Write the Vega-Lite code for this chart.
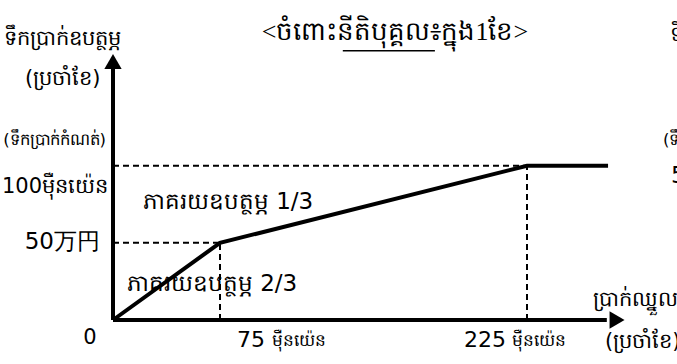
{
  "$schema": "https://vega.github.io/schema/vega-lite/v6.json",
  "width": 507,
  "height": 270,
  "autosize": "none",
  "padding": {"left": 113, "top": 50, "right": 57, "bottom": 44},
  "background": "white",
  "config": {"view": {"stroke": null}},
  "datasets": {
    "line": [{"x": 0, "y": 0}, {"x": 75, "y": 50}, {"x": 225, "y": 100}, {"x": 264.6, "y": 100}],
    "dashes": [
      {"x": 0, "y": 50, "x2": 75, "y2": 50},
      {"x": 75, "y": 0, "x2": 75, "y2": 50},
      {"x": 0, "y": 100, "x2": 225, "y2": 100},
      {"x": 225, "y": 0, "x2": 225, "y2": 100}
    ],
    "axes": [
      {"x": 0, "y": 0, "x2": 0, "y2": 164},
      {"x": 0, "y": 0, "x2": 264, "y2": 0}
    ],
    "underline": [{"x": 135, "y": 174.5, "x2": 180, "y2": 174.5}],
    "arrowUp": [{"x": 0, "y": 167.5}],
    "arrowRight": [{"x": 269, "y": 0}],
    "title": [{"x": 160.5, "y": 186.6, "text": "<ចំពោះនីតិបុគ្គល៖ក្នុង1ខែ>"}],
    "yTitle": [
      {"x": -35.2, "y": 182, "text": "ទឹកប្រាក់ឧបត្ថម្ភ"},
      {"x": -35.2, "y": 156, "text": "(ប្រចាំខែ)"}
    ],
    "rates": [
      {"x": 78.9, "y": 76.5, "text": "ភាគរយឧបត្ថម្ភ 1/3"},
      {"x": 69.4, "y": 23.5, "text": "ភាគរយឧបត្ថម្ភ 2/3"}
    ],
    "bigLeft": [
      {"x": 257.2, "y": 13, "text": "ប្រាក់ឈ្នួល"},
      {"x": 263.1, "y": -14, "text": "(ប្រចាំខែ)"},
      {"x": 294.9, "y": 185, "text": "ទឹកប្រាក់ឧបត្ថម្ភ"}
    ],
    "smallRight": [{"x": -4.9, "y": 116.7, "text": "(ទឹកប្រាក់កំណត់)"}],
    "smallLeftFar": [{"x": 291.4, "y": 116.7, "text": "(ទឹកប្រាក់កំណត់)"}],
    "limit": [{"x": -3.5, "y": 86.5, "text": "100ម៉ឺនយ៉េន"}],
    "fifty": [{"x": -9.1, "y": 50.5, "text": "50万円"}],
    "fiftyFar": [{"x": 295.4, "y": 93.3, "text": "50万円"}],
    "zero": [{"x": -16.1, "y": -11.7, "text": "0"}],
    "tickBig": [
      {"x": 97, "y": -13, "text": "75"},
      {"x": 214.7, "y": -13, "text": "225"}
    ],
    "tickUnit": [
      {"x": 100.4, "y": -13.5, "text": "ម៉ឺនយ៉េន"},
      {"x": 217.7, "y": -13.5, "text": "ម៉ឺនយ៉េន"}
    ]
  },
  "encoding": {
    "x": {"field": "x", "type": "quantitative", "axis": null,
      "scale": {"domain": [0, 75, 225], "range": [0, 107, 414], "nice": false, "zero": false}},
    "y": {"field": "y", "type": "quantitative", "axis": null,
      "scale": {"domain": [0, 175], "nice": false, "zero": false}}
  },
  "layer": [
    {"data": {"name": "dashes"}, "mark": {"type": "rule", "strokeDash": [6, 4], "strokeWidth": 2, "color": "black"},
      "encoding": {"x2": {"field": "x2"}, "y2": {"field": "y2"}}},
    {"data": {"name": "line"}, "mark": {"type": "line", "color": "black", "strokeWidth": 4}, "encoding": {}},
    {"data": {"name": "axes"}, "mark": {"type": "rule", "strokeWidth": 4, "color": "black"},
      "encoding": {"x2": {"field": "x2"}, "y2": {"field": "y2"}}},
    {"data": {"name": "underline"}, "mark": {"type": "rule", "strokeWidth": 1.5, "color": "black"},
      "encoding": {"x2": {"field": "x2"}, "y2": {"field": "y2"}}},
    {"data": {"name": "arrowUp"}, "mark": {"type": "point", "shape": "triangle-up", "filled": true, "color": "black", "size": 300, "opacity": 1}, "encoding": {}},
    {"data": {"name": "arrowRight"}, "mark": {"type": "point", "shape": "triangle-right", "filled": true, "color": "black", "size": 300, "opacity": 1}, "encoding": {}},
    {"data": {"name": "title"}, "mark": {"type": "text", "font": "Liberation Serif", "fontSize": 26, "align": "center", "baseline": "middle", "color": "black"},
      "encoding": {"text": {"field": "text"}}},
    {"data": {"name": "yTitle"}, "mark": {"type": "text", "font": "DejaVu Sans", "fontSize": 21, "align": "center", "baseline": "middle", "color": "black"},
      "encoding": {"text": {"field": "text"}}},
    {"data": {"name": "rates"}, "mark": {"type": "text", "font": "DejaVu Sans", "fontSize": 23, "align": "center", "baseline": "middle", "color": "black"},
      "encoding": {"text": {"field": "text"}}},
    {"data": {"name": "bigLeft"}, "mark": {"type": "text", "font": "DejaVu Sans", "fontSize": 21, "align": "left", "baseline": "middle", "color": "black"},
      "encoding": {"text": {"field": "text"}}},
    {"data": {"name": "smallRight"}, "mark": {"type": "text", "font": "DejaVu Sans", "fontSize": 16.5, "align": "right", "baseline": "middle", "color": "black"},
      "encoding": {"text": {"field": "text"}}},
    {"data": {"name": "smallLeftFar"}, "mark": {"type": "text", "font": "DejaVu Sans", "fontSize": 16.5, "align": "left", "baseline": "middle", "color": "black"},
      "encoding": {"text": {"field": "text"}}},
    {"data": {"name": "limit"}, "mark": {"type": "text", "font": "DejaVu Sans", "fontSize": 21, "align": "right", "baseline": "middle", "color": "black"},
      "encoding": {"text": {"field": "text"}}},
    {"data": {"name": "fifty"}, "mark": {"type": "text", "font": "DejaVu Sans", "fontSize": 23, "align": "right", "baseline": "middle", "color": "black"},
      "encoding": {"text": {"field": "text"}}},
    {"data": {"name": "fiftyFar"}, "mark": {"type": "text", "font": "DejaVu Sans", "fontSize": 23, "align": "left", "baseline": "middle", "color": "black"},
      "encoding": {"text": {"field": "text"}}},
    {"data": {"name": "zero"}, "mark": {"type": "text", "font": "DejaVu Sans", "fontSize": 21, "align": "center", "baseline": "middle", "color": "black"},
      "encoding": {"text": {"field": "text"}}},
    {"data": {"name": "tickBig"}, "mark": {"type": "text", "font": "DejaVu Sans", "fontSize": 22, "align": "right", "baseline": "middle", "color": "black"},
      "encoding": {"text": {"field": "text"}}},
    {"data": {"name": "tickUnit"}, "mark": {"type": "text", "font": "DejaVu Sans", "fontSize": 17, "align": "left", "baseline": "middle", "color": "black"},
      "encoding": {"text": {"field": "text"}}}
  ]
}
